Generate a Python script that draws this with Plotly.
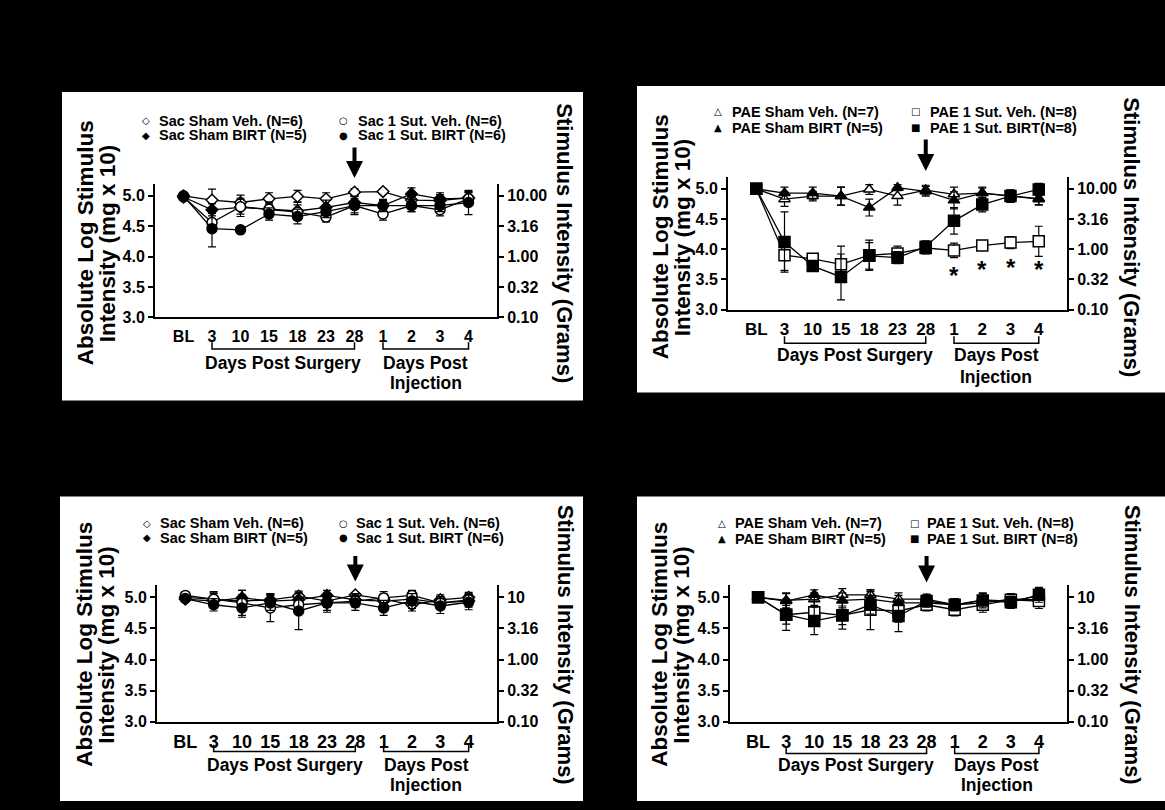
import plotly.graph_objects as go

W, H = 1165, 810

# ---------------- data ----------------
days = ["BL", "3", "10", "15", "18", "23", "28", "1", "2", "3", "4"]
left_tick_vals = [3.0, 3.5, 4.0, 4.5, 5.0]
left_tick_text = ["3.0", "3.5", "4.0", "4.5", "5.0"]
right_tick_text_top = ["0.10", "0.32", "1.00", "3.16", "10.00"]
right_tick_text_bottom = ["0.10", "0.32", "1.00", "3.16", "10"]

# Panel A (Sac, top)
a_sham_veh = [5.00, 4.93, 4.89, 4.95, 4.99, 4.95, 5.06, 5.07, 4.93, 4.92, 4.97]
a_sham_veh_err = [0.03, 0.18, 0.12, 0.10, 0.10, 0.10, 0.06, 0.04, 0.08, 0.10, 0.10]
a_sham_birt = [4.98, 4.77, 4.81, 4.78, 4.75, 4.81, 4.89, 4.84, 5.03, 4.95, 4.96]
a_sham_birt_err = [0.03, 0.10, 0.15, 0.12, 0.15, 0.12, 0.10, 0.08, 0.10, 0.10, 0.10]
a_sut_veh = [4.98, 4.56, 4.82, 4.78, 4.73, 4.65, 4.84, 4.70, 4.84, 4.77, 4.95]
a_sut_veh_err = [0.03, 0.15, 0.12, 0.10, 0.12, 0.08, 0.12, 0.10, 0.10, 0.10, 0.10]
a_sut_birt = [5.00, 4.46, 4.44, 4.70, 4.66, 4.74, 4.84, 4.84, 4.84, 4.84, 4.89]
a_sut_birt_err = [0.03, 0.30, 0.05, 0.10, 0.12, 0.10, 0.15, 0.10, 0.10, 0.10, 0.20]

# Panel B (PAE, top)
b_sham_veh = [5.00, 4.83, 4.88, 4.88, 4.99, 4.88, 4.98, 4.91, 4.93, 4.88, 4.84]
b_sham_veh_err = [0.02, 0.12, 0.08, 0.15, 0.08, 0.15, 0.08, 0.12, 0.10, 0.10, 0.10]
b_sham_birt = [5.00, 4.93, 4.93, 4.88, 4.69, 5.02, 4.96, 4.81, 4.93, 4.88, 4.83]
b_sham_birt_err = [0.02, 0.10, 0.10, 0.15, 0.14, 0.05, 0.08, 0.14, 0.08, 0.10, 0.10]
b_sut_veh = [5.00, 3.90, 3.84, 3.75, 3.90, 3.93, 4.02, 3.98, 4.06, 4.11, 4.13]
b_sut_veh_err = [0.03, 0.25, 0.08, 0.30, 0.25, 0.12, 0.10, 0.12, 0.08, 0.10, 0.25]
b_sut_birt = [5.00, 4.12, 3.72, 3.54, 3.89, 3.86, 4.04, 4.47, 4.74, 4.88, 4.99]
b_sut_birt_err = [0.03, 0.50, 0.08, 0.38, 0.22, 0.10, 0.10, 0.22, 0.12, 0.10, 0.10]
b_sig_idx = [7, 8, 9, 10]
b_sig_y = [3.56, 3.67, 3.70, 3.67]

# Panel C (Sac, bottom)
c_sham_veh = [5.00, 4.97, 4.94, 4.96, 5.02, 4.94, 5.04, 4.97, 4.88, 4.96, 5.00]
c_sham_veh_err = [0.03, 0.10, 0.10, 0.10, 0.08, 0.10, 0.03, 0.08, 0.10, 0.08, 0.08]
c_sham_birt = [4.97, 4.94, 4.99, 4.94, 4.96, 5.03, 4.96, 4.94, 4.97, 4.91, 4.94]
c_sham_birt_err = [0.03, 0.12, 0.12, 0.10, 0.10, 0.08, 0.10, 0.08, 0.10, 0.10, 0.10]
c_sut_veh = [5.03, 4.97, 4.91, 4.83, 4.88, 4.91, 4.94, 4.99, 5.03, 4.91, 4.96]
c_sut_veh_err = [0.03, 0.12, 0.20, 0.22, 0.12, 0.15, 0.10, 0.10, 0.08, 0.10, 0.10]
c_sut_birt = [4.98, 4.88, 4.83, 4.91, 4.78, 4.91, 4.91, 4.83, 4.94, 4.86, 4.92]
c_sut_birt_err = [0.03, 0.10, 0.15, 0.12, 0.30, 0.12, 0.12, 0.12, 0.12, 0.12, 0.12]

# Panel D (PAE, bottom)
d_sham_veh = [5.00, 4.95, 4.97, 5.04, 5.04, 4.97, 4.97, 4.88, 4.91, 4.97, 4.96]
d_sham_veh_err = [0.02, 0.12, 0.10, 0.10, 0.08, 0.10, 0.08, 0.08, 0.10, 0.08, 0.10]
d_sham_birt = [5.00, 4.94, 5.04, 4.95, 4.97, 4.91, 4.91, 4.88, 4.96, 4.94, 5.02]
d_sham_birt_err = [0.02, 0.12, 0.08, 0.12, 0.12, 0.12, 0.10, 0.10, 0.10, 0.10, 0.12]
d_sut_veh = [5.00, 4.72, 4.76, 4.71, 4.80, 4.78, 4.88, 4.80, 4.88, 4.96, 4.94]
d_sut_veh_err = [0.03, 0.15, 0.20, 0.15, 0.32, 0.18, 0.10, 0.10, 0.12, 0.10, 0.12]
d_sut_birt = [5.00, 4.72, 4.62, 4.71, 4.88, 4.70, 4.94, 4.88, 4.95, 4.92, 5.04]
d_sut_birt_err = [0.03, 0.25, 0.22, 0.22, 0.15, 0.25, 0.10, 0.10, 0.12, 0.10, 0.12]

xpos = list(range(len(days)))

# ---------------- helpers ----------------
FONT = "Liberation Sans, Arial, sans-serif"


def px(xp):
    return xp / W


def py(yp):
    return 1 - yp / H


panels = [
    dict(box=(62, 93, 583, 405), plot_x=(155, 497), y3=321, ppu=61.5, x_tick=16,
         leg_rows=(122, 137), leg_cols=((146, 157), (343, 356)), tl=(85, 107), cy=246, tr=565,
         arrow=(148, 180), br=353, lab1=367, lab2=(367, 387), rtext=right_tick_text_top,
         series=[
             ("Sac Sham Veh. (N=6)", a_sham_veh, a_sham_veh_err, "diamond", "white", "◇"),
             ("Sac Sham BIRT (N=5)", a_sham_birt, a_sham_birt_err, "diamond", "black", "◆"),
             ("Sac 1 Sut. Veh. (N=6)", a_sut_veh, a_sut_veh_err, "circle", "white", "○"),
             ("Sac 1 Sut. BIRT (N=6)", a_sut_birt, a_sut_birt_err, "circle", "black", "●"),
         ], sig=None),
    dict(box=(637, 87, 1165, 397), plot_x=(728, 1067), y3=313, ppu=61, x_tick=17,
         leg_rows=(113, 129), leg_cols=((718, 730), (915, 928)), tl=(660, 682), cy=240, tr=1132,
         arrow=(140, 173), br=347, lab1=359, lab2=(359, 381), rtext=right_tick_text_top,
         series=[
             ("PAE Sham Veh. (N=7)", b_sham_veh, b_sham_veh_err, "triangle-up", "white", "△"),
             ("PAE Sham BIRT (N=5)", b_sham_birt, b_sham_birt_err, "triangle-up", "black", "▲"),
             ("PAE 1 Sut. Veh. (N=8)", b_sut_veh, b_sut_veh_err, "square", "white", "□"),
             ("PAE 1 Sut. BIRT(N=8)", b_sut_birt, b_sut_birt_err, "square", "black", "■"),
         ], sig=(b_sig_idx, b_sig_y)),
    dict(box=(60, 502, 583, 810), plot_x=(157, 497), y3=730, ppu=63, x_tick=18,
         leg_rows=(529, 544), leg_cols=((147, 158), (343, 354)), tl=(85, 107), cy=652, tr=565,
         arrow=(561, 588), br=760, lab1=774, lab2=(774, 794), rtext=right_tick_text_bottom,
         series=[
             ("Sac Sham Veh. (N=6)", c_sham_veh, c_sham_veh_err, "diamond", "white", "◇"),
             ("Sac Sham BIRT (N=5)", c_sham_birt, c_sham_birt_err, "diamond", "black", "◆"),
             ("Sac 1 Sut. Veh. (N=6)", c_sut_veh, c_sut_veh_err, "circle", "white", "○"),
             ("Sac 1 Sut. BIRT (N=6)", c_sut_birt, c_sut_birt_err, "circle", "black", "●"),
         ], sig=None),
    dict(box=(637, 502, 1165, 810), plot_x=(730, 1067), y3=730, ppu=63, x_tick=18,
         leg_rows=(529, 545), leg_cols=((722, 733), (914, 925)), tl=(660, 682), cy=652, tr=1132,
         arrow=(561, 589), br=762, lab1=774, lab2=(774, 794), rtext=right_tick_text_bottom,
         series=[
             ("PAE Sham Veh. (N=7)", d_sham_veh, d_sham_veh_err, "triangle-up", "white", "△"),
             ("PAE Sham BIRT (N=5)", d_sham_birt, d_sham_birt_err, "triangle-up", "black", "▲"),
             ("PAE 1 Sut. Veh. (N=8)", d_sut_veh, d_sut_veh_err, "square", "white", "□"),
             ("PAE 1 Sut. BIRT (N=8)", d_sut_birt, d_sut_birt_err, "square", "black", "■"),
         ], sig=None),
]

marker_sizes = {"diamond": 9, "circle": 10, "triangle-up": 10, "square": 11}

fig = go.Figure()
shapes = []
annotations = []
layout = {}

for i, p in enumerate(panels, start=1):
    xa = "x" if i == 1 else f"x{i}"
    ya = "y" if i == 1 else f"y{i}"
    yr = f"y{i + 4}"
    xkey = "xaxis" if i == 1 else f"xaxis{i}"
    ykey = "yaxis" if i == 1 else f"yaxis{i}"
    yrkey = f"yaxis{i + 4}"

    bx0, by0, bx1, by1 = p["box"]
    shapes.append(dict(type="rect", xref="paper", yref="paper", x0=px(bx0), x1=px(bx1),
                       y0=py(by1), y1=py(by0), fillcolor="white", line=dict(width=0), layer="below"))

    ytop = p["y3"] - 2.2 * p["ppu"]
    ydom = [py(p["y3"]), py(ytop)]
    layout[xkey] = dict(domain=[px(p["plot_x"][0]), px(p["plot_x"][1])], range=[-1, 11],
                        anchor=ya, showline=True, linewidth=2, linecolor="black", ticks="",
                        tickvals=xpos, ticktext=days, showgrid=False, zeroline=False,
                        ticklabelstandoff=3,
                        tickfont=dict(family=FONT, size=p["x_tick"], color="black", weight="bold"),
                        fixedrange=True)
    layout[ykey] = dict(domain=ydom, range=[3.0, 5.2], anchor=xa, side="left", showline=True,
                        linewidth=2, linecolor="black", ticks="outside", ticklen=5, tickwidth=2,
                        tickcolor="black", tickvals=left_tick_vals, ticktext=left_tick_text,
                        showgrid=False, zeroline=False,
                        tickfont=dict(family=FONT, size=16, color="black", weight="bold"))
    layout[yrkey] = dict(range=[3.0, 5.2], overlaying=ya, anchor=xa, side="right", showline=True,
                         linewidth=2, linecolor="black", ticks="outside", ticklen=5, tickwidth=2,
                         tickcolor="black", tickvals=left_tick_vals, ticktext=p["rtext"],
                         showgrid=False, zeroline=False,
                         tickfont=dict(family=FONT, size=16, color="black", weight="bold"))

    # invisible trace so the right axis is drawn
    fig.add_trace(go.Scatter(x=[None], y=[None], xaxis=xa, yaxis=yr, showlegend=False,
                             hoverinfo="skip"))

    for name, vals, errs, sym, fill, glyph in p["series"]:
        fig.add_trace(go.Scatter(
            x=xpos, y=vals, name=name, mode="lines+markers", xaxis=xa, yaxis=ya,
            line=dict(color="black", width=1.3),
            marker=dict(symbol=sym, size=marker_sizes[sym], color=fill,
                        line=dict(color="black", width=1.5)),
            error_y=dict(type="data", array=errs, visible=True, color="black",
                         thickness=1.2, width=4),
            showlegend=False, cliponaxis=False))

    # legend (two columns, two rows)
    for k, (name, vals, errs, sym, fill, glyph) in enumerate(p["series"]):
        col = k // 2
        row = k % 2
        gx, tx = p["leg_cols"][col]
        yy = p["leg_rows"][row]
        annotations.append(dict(xref="paper", yref="paper", x=px(gx), y=py(yy), text=glyph,
                                showarrow=False, xanchor="center", yanchor="middle",
                                font=dict(family="DejaVu Sans", size=10, color="black")))
        annotations.append(dict(xref="paper", yref="paper", x=px(tx), y=py(yy), text=name,
                                showarrow=False, xanchor="left", yanchor="middle",
                                font=dict(family=FONT, size=14.5, color="black", weight="bold")))

    # axis titles
    for txt, xx in zip(["Absolute Log Stimulus", "Intensity (mg x 10)"], p["tl"]):
        annotations.append(dict(xref="paper", yref="paper", x=px(xx), y=py(p["cy"]), text=txt,
                                textangle=-90, showarrow=False, xanchor="center", yanchor="middle",
                                font=dict(family=FONT, size=22.5, color="black", weight="bold")))
    annotations.append(dict(xref="paper", yref="paper", x=px(p["tr"]), y=py(p["cy"]),
                            text="Stimulus Intensity (Grams)", textangle=90, showarrow=False,
                            xanchor="center", yanchor="middle",
                            font=dict(family=FONT, size=22, color="black", weight="bold")))

    # injection arrow at day 28
    t0, t1 = p["arrow"]
    annotations.append(dict(xref=xa, yref="paper", x=6, y=py(t1), ax=0, ay=-(t1 - t0),
                            text="", showarrow=True, arrowhead=2, arrowsize=0.85, arrowwidth=4,
                            arrowcolor="black"))

    # brackets
    yb = py(p["br"])
    yt = py(p["br"] - 7)
    for a0, a1 in [(1, 6), (7, 10)]:
        shapes.append(dict(type="path", xref=xa, yref="paper",
                           path=f"M {a0},{yt} L {a0},{yb} L {a1},{yb} L {a1},{yt}",
                           line=dict(color="black", width=1.5)))
    annotations.append(dict(xref=xa, yref="paper", x=3.5, y=py(p["lab1"]), text="Days Post Surgery",
                            showarrow=False, xanchor="center", yanchor="middle",
                            font=dict(family=FONT, size=17.5, color="black", weight="bold")))
    annotations.append(dict(xref=xa, yref="paper", x=8.5, y=py(p["lab2"][0]), text="Days Post",
                            showarrow=False, xanchor="center", yanchor="middle",
                            font=dict(family=FONT, size=17.5, color="black", weight="bold")))
    annotations.append(dict(xref=xa, yref="paper", x=8.5, y=py(p["lab2"][1]), text="Injection",
                            showarrow=False, xanchor="center", yanchor="middle",
                            font=dict(family=FONT, size=17.5, color="black", weight="bold")))

    if p["sig"] is not None:
        for sx, sy in zip(*p["sig"]):
            annotations.append(dict(xref=xa, yref=ya, x=sx, y=sy, text="*", showarrow=False,
                                    xanchor="center", yanchor="middle",
                                    font=dict(family=FONT, size=24, color="black", weight="bold")))

fig.update_layout(
    width=W, height=H, margin=dict(l=0, r=0, t=0, b=0),
    paper_bgcolor="black", plot_bgcolor="rgba(0,0,0,0)",
    showlegend=False, shapes=shapes, annotations=annotations, **layout)

fig.write_html("out.html",
               config={"displayModeBar": False},
               post_script="document.body.style.margin='0px';"
                           "document.body.style.background='black';"
                           "document.body.style.overflow='hidden';")
